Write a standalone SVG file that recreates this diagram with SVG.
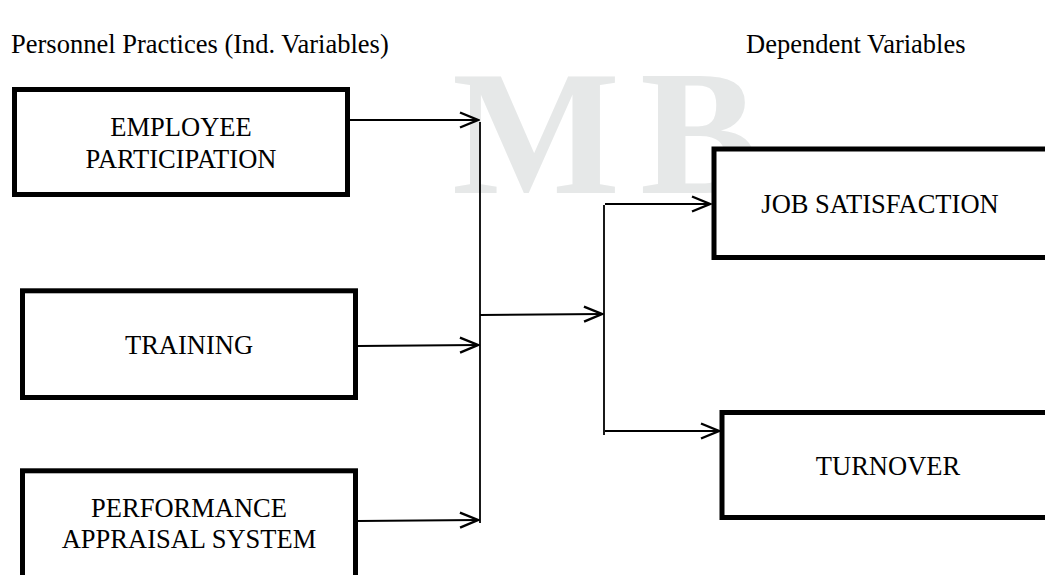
<svg xmlns="http://www.w3.org/2000/svg" width="1045" height="575" viewBox="0 0 1045 575">
  <style>
    .lbl { font-family: "Liberation Serif", "Times New Roman", serif; font-size: 26.5px; fill: #000; }
    .mid { text-anchor: middle; }
    .box { fill: #fff; stroke: #000; stroke-width: 5; }
    .wire { fill: none; stroke: #000; stroke-width: 2.2; }
    .bus { fill: none; stroke: #000; stroke-width: 1.8; }
    .wm { font-family: "Liberation Serif", serif; font-weight: bold; font-size: 178px; fill: #e6e8e8; }
  </style>
  <defs>
    <marker id="open" viewBox="0 0 22 18" refX="20" refY="9" markerWidth="22" markerHeight="18" markerUnits="userSpaceOnUse" orient="auto">
      <path d="M2,1.5 L20,9 L2,16.5" fill="none" stroke="#000" stroke-width="2.4"/>
    </marker>
  </defs>
  <rect width="1045" height="575" fill="#fff"/>
  <g id="watermark">
    <text class="wm" x="452" y="193">M<tspan x="640">B</tspan></text>
  </g>
  <g id="headers">
    <text class="lbl" x="11" y="53">Personnel Practices (Ind. Variables)</text>
    <text class="lbl" x="746" y="53">Dependent Variables</text>
  </g>
  <g id="employee-participation">
    <rect class="box" x="14.5" y="89.5" width="333" height="105"/>
    <text class="lbl mid" x="181" y="136">EMPLOYEE</text>
    <text class="lbl mid" x="181" y="168">PARTICIPATION</text>
  </g>
  <g id="training">
    <rect class="box" x="22.5" y="290.8" width="333" height="106.7"/>
    <text class="lbl mid" x="189" y="354">TRAINING</text>
  </g>
  <g id="performance-appraisal">
    <rect class="box" x="22.5" y="470.8" width="333" height="115"/>
    <text class="lbl mid" x="189" y="517">PERFORMANCE</text>
    <text class="lbl mid" x="189" y="548">APPRAISAL SYSTEM</text>
  </g>
  <g id="job-satisfaction">
    <rect class="box" x="714" y="149" width="340" height="108.5"/>
    <text class="lbl mid" x="880" y="213">JOB SATISFACTION</text>
  </g>
  <g id="turnover">
    <rect class="box" x="722" y="412.5" width="340" height="105"/>
    <text class="lbl mid" x="888" y="475">TURNOVER</text>
  </g>
  <g id="connectors">
    <line class="wire" x1="350" y1="120" x2="478" y2="120" marker-end="url(#open)"/>
    <line class="wire" x1="358" y1="346" x2="478" y2="345" marker-end="url(#open)"/>
    <line class="wire" x1="358" y1="521" x2="478" y2="520" marker-end="url(#open)"/>
    <line class="bus" x1="480" y1="122" x2="480" y2="523"/>
    <line class="wire" x1="480" y1="315" x2="602" y2="314" marker-end="url(#open)"/>
    <line class="bus" x1="604" y1="205" x2="604" y2="435"/>
    <line class="wire" x1="605" y1="204" x2="710" y2="204" marker-end="url(#open)"/>
    <line class="wire" x1="605" y1="431" x2="719" y2="431" marker-end="url(#open)"/>
  </g>
</svg>
